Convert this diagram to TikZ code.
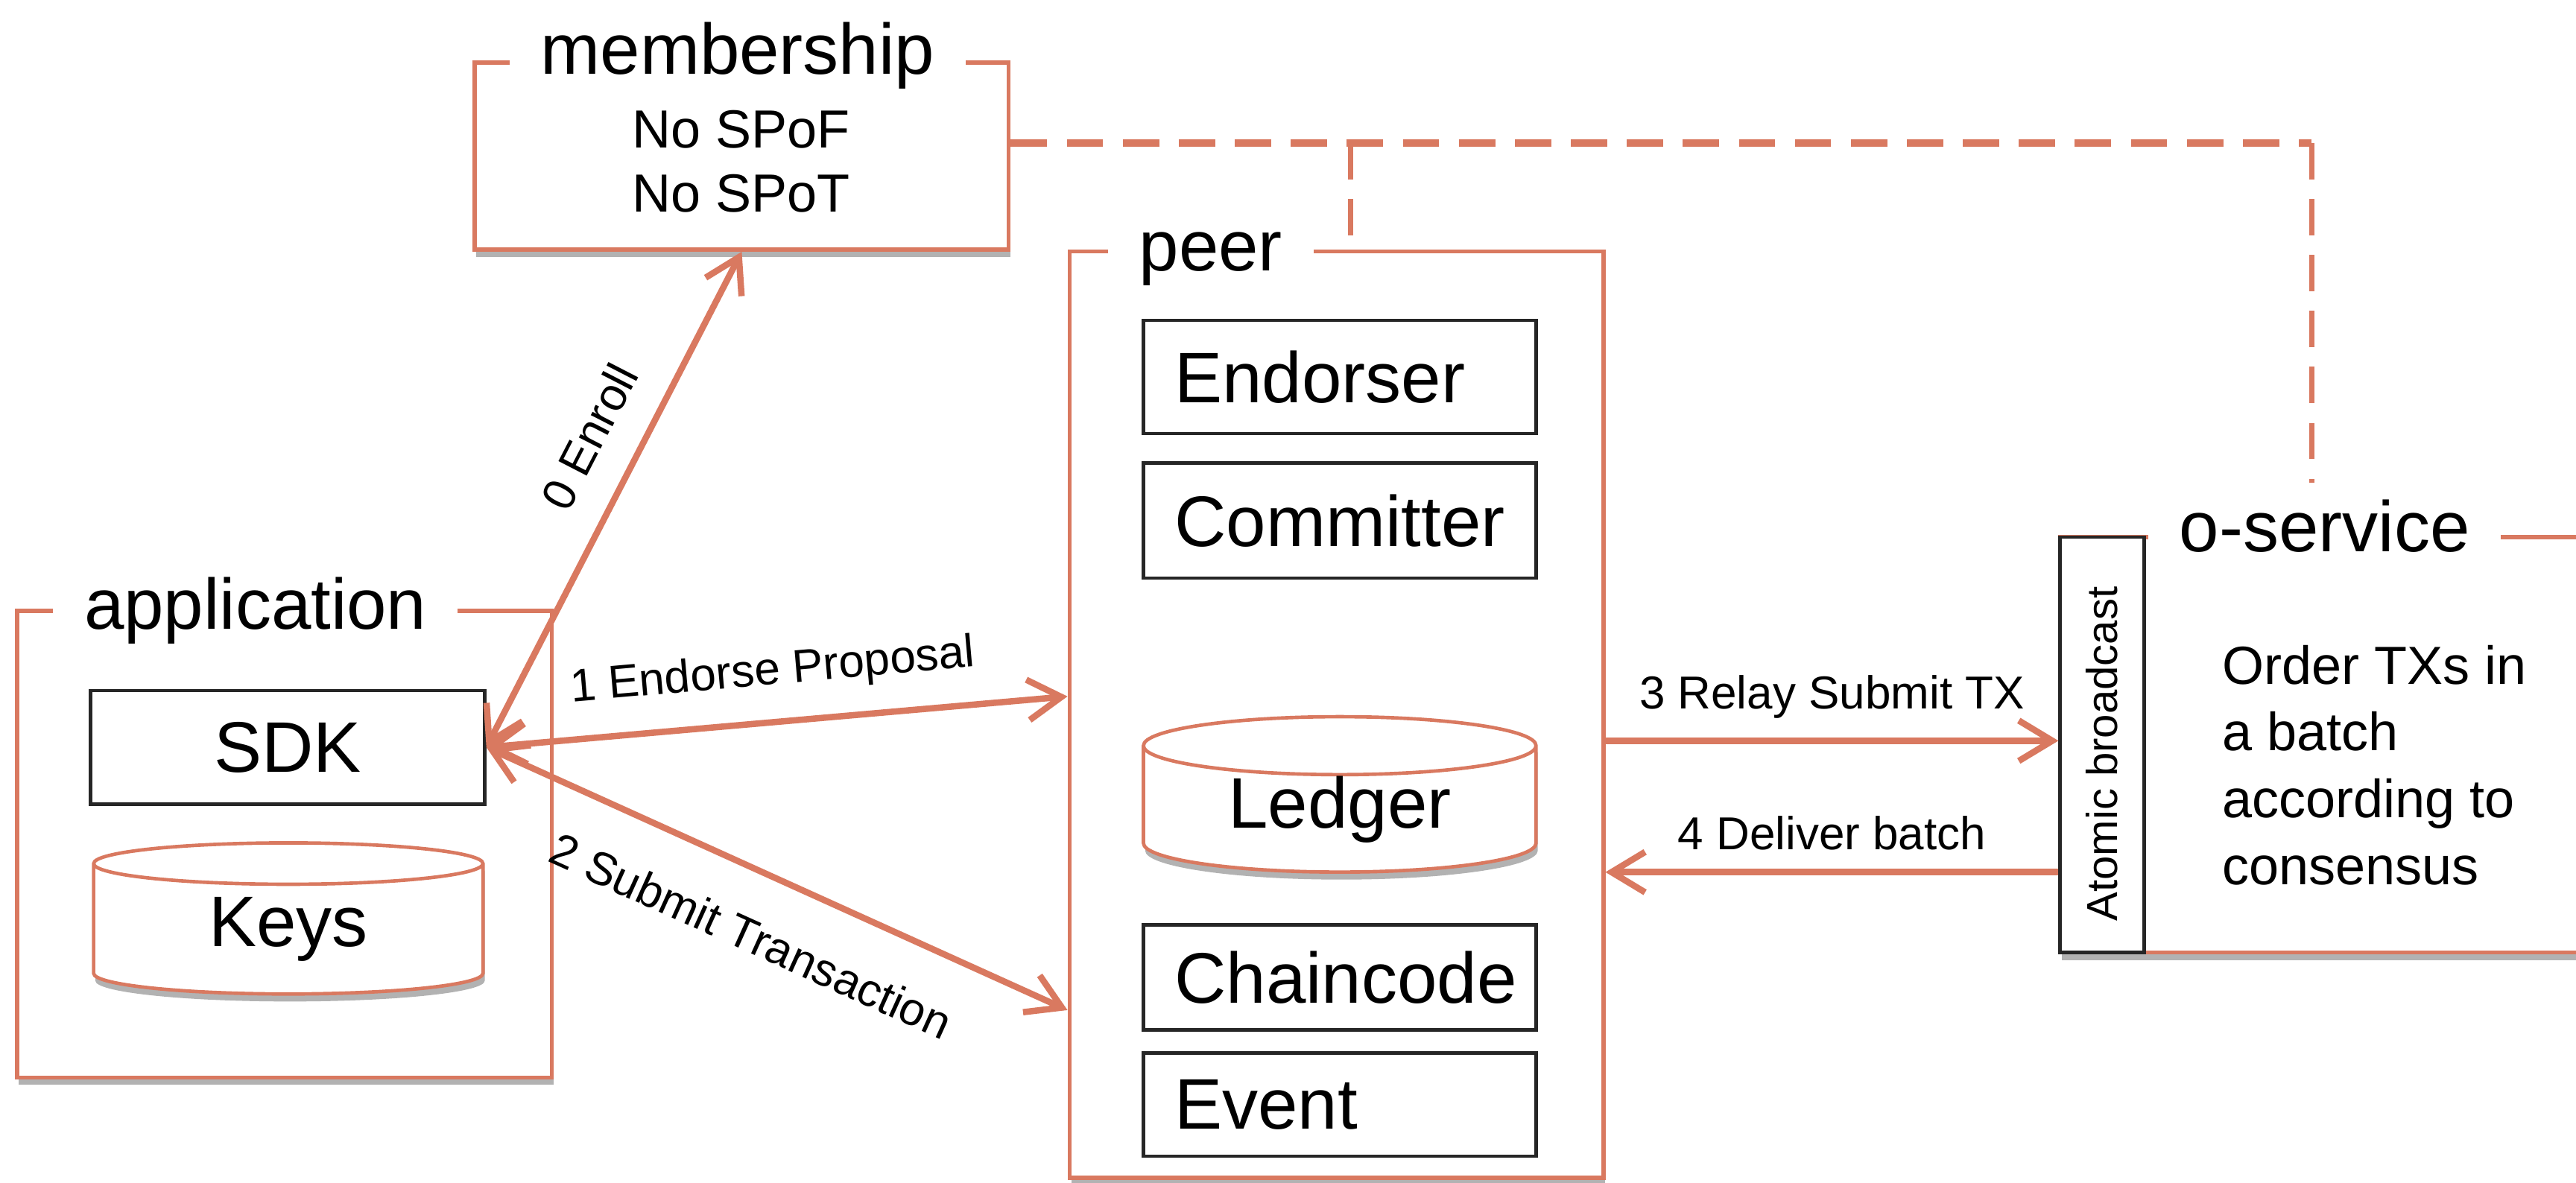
\documentclass[tikz,border=0pt]{standalone}
\usepackage{fontspec}
\setmainfont{Liberation Sans}
\usetikzlibrary{arrows.meta,shapes.geometric,shadows}
\definecolor{coral}{RGB}{217,121,96}

\begin{document}
\begin{tikzpicture}[x=0.1mm, y=-0.1mm,
    big/.style={font=\fontsize{12.4}{14}\selectfont},
    lbl/.style={font=\fontsize{8}{10}\selectfont},
    castshadow/.style={drop shadow={shadow xshift=0.3pt, shadow yshift=-1.3pt, opacity=0.3, fill=black}},
    container/.style={draw=coral, line width=0.7pt, fill=white, inner sep=0pt, castshadow},
    grouptitle/.style={big, fill=white, inner xsep=1.9mm, inner ysep=1pt, anchor=base},
    part/.style={draw=black!85, line width=0.6pt, fill=white, big, minimum height=6.9mm, text width=20.1mm, inner xsep=1.9mm, inner ysep=0pt, align=left},
    store/.style={cylinder, shape border rotate=90, aspect=0.26, draw=coral, line width=0.6pt, fill=white, big, inner sep=0pt, castshadow},
    msg/.style={draw=coral, line width=1.1pt, -{Straight Barb[length=5.8pt, width=7pt]}},
    duplex/.style={msg, {Straight Barb[length=5.8pt, width=7pt]}-{Straight Barb[length=5.8pt, width=7pt]}},
    wire/.style={draw=coral, line width=1.3pt, dash pattern=on 6.3pt off 3.4pt},
    thinwire/.style={wire, line width=0.9pt}]
  \useasboundingbox (0,0) rectangle (1568,720);
  \clip (0,0) rectangle (1568,720);

  % membership
  \node[container, minimum width=32.5mm, minimum height=11.4mm] (member) at (451.5,95) {};
  \node[grouptitle] (membertitle) at (449,45) {membership};
  \node[font=\fontsize{9.3}{11.1}\selectfont, align=center, anchor=north, inner sep=0pt] (memberinfo) at (451,66.5) {No SPoF\\No SPoT};

  % dashed links
  \coordinate (tee) at (822,87);
  \coordinate (corner) at (1407,87);
  \coordinate (oend) at (1407,294);
  \draw[wire] (member.east |- tee) -- (corner);
  \draw[thinwire] (corner) -- (oend);

  % application
  \node[container, minimum width=32.56mm, minimum height=28.4mm] (app) at (173.2,514) {};
  \node[grouptitle] (apptitle) at (155.5,383) {application};
  \node[part, minimum width=24mm, text width=20.2mm, align=center] (sdk) at (175,455) {SDK};
  \node[store, minimum width=23.7mm, minimum height=9.2mm] (keys) at (175.5,566) {Keys};

  % peer
  \node[container, minimum width=32.5mm, minimum height=56.4mm] (peer) at (813.5,435) {};
  \node[grouptitle] (peertitle) at (737,165) {peer};
  \draw[thinwire] (tee) -- (peer.north -| tee);
  \node[part] (endorser) at (815.5,229.5) {Endorser};
  \node[part, minimum height=7mm] (committer) at (815.5,317) {Committer};
  \node[store, minimum width=23.9mm, minimum height=9.1mm] (ledger) at (815.5,493) {Ledger};
  \node[part, minimum height=6.4mm] (chaincode) at (815.5,595) {Chaincode};
  \node[part, minimum height=6.3mm] (event) at (815.5,672.5) {Event};

  % o-service
  \node[container, minimum width=36.6mm, minimum height=25.3mm] (oserv) at (1437,453.5) {};
  \node[grouptitle] (oservtitle) at (1415,336) {o-service};
  \node[draw=black!85, line width=0.6pt, fill=white, minimum width=5.1mm, minimum height=25.3mm, inner sep=0pt] (atomic) at (1279.5,453.5) {};
  \node[font=\fontsize{7.5}{9}\selectfont, rotate=90] (atomictext) at (1279.5,459) {Atomic broadcast};
  \node[font=\fontsize{9.3}{11.6}\selectfont, align=left, anchor=north west, inner sep=0pt] (order) at (1352,392) {Order TXs in\\a batch\\according to\\consensus};

  % messages
  \draw[duplex] (sdk.east) -- (member.south) node[lbl, pos=0.58, sloped, above=2pt] (lenroll) {0 Enroll};
  \draw[duplex] (sdk.east) -- ([yshift=1.1mm]peer.west) node[lbl, midway, sloped, above=1pt] (lendorse) {1 Endorse Proposal};
  \draw[duplex] (sdk.east) -- ([yshift=-18mm]peer.west) node[lbl, midway, sloped, below=4pt] (lsubmit) {2 Submit Transaction};
  \draw[msg] ([yshift=-1.6mm]peer.east) -- ([yshift=-1.6mm]peer.east -| atomic.west) node[lbl, midway, above] (lrelay) {3 Relay Submit TX};
  \draw[msg] ([yshift=-9.6mm]peer.east -| atomic.west) -- ([yshift=-9.6mm]peer.east) node[lbl, midway, above] (ldeliver) {4 Deliver batch};
\end{tikzpicture}
\end{document}
